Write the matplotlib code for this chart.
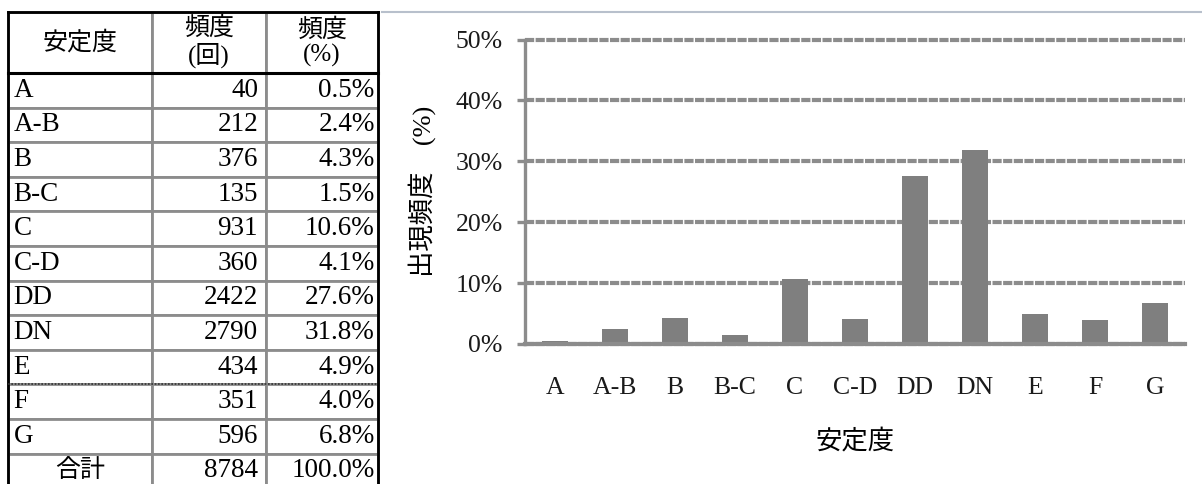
import matplotlib.pyplot as plt
from matplotlib.table import Table

# データ (表と棒グラフ共通)
categories = ['A', 'A-B', 'B', 'B-C', 'C', 'C-D', 'DD', 'DN', 'E', 'F', 'G']
counts = [40, 212, 376, 135, 931, 360, 2422, 2790, 434, 351, 596]
freq_pct = [0.5, 2.4, 4.3, 1.5, 10.6, 4.1, 27.6, 31.8, 4.9, 4.0, 6.8]
total_label = '合計'
total_count = 8784
total_pct = 100.0

header = ['安定度', '頻度\n(回)', '頻度\n(%)']
y_ticks = [0, 10, 20, 30, 40, 50]

plt.rcParams['font.family'] = ['Liberation Serif', 'Noto Sans CJK JP']

W, H = 1202, 484
fig = plt.figure(figsize=(W / 100, H / 100), dpi=100)

grey = '#8c8c8c'

# ---- 表 ----
col_w = [144, 114, 112]
head_h = 61
row_h = 34.6
n_rows = len(categories) + 1
total_h = head_h + row_h * n_rows
tab_top = 12
ax_t = fig.add_axes([8 / W, 1 - (tab_top + total_h) / H, sum(col_w) / W, total_h / H])
ax_t.axis('off')

tbl = Table(ax_t, bbox=[0, 0, 1, 1])
pads = [0.04, 0.07, 0.03]

def add(r, c, text, loc, h, size=19.5):
    cell = tbl.add_cell(r, c, width=col_w[c], height=h, text=text, loc=loc,
                        edgecolor=grey, facecolor='white')
    cell.set_linewidth(2)
    cell.PAD = pads[c]
    cell.get_text().set_fontsize(size)
    cell.get_text().set_linespacing(1.15)
    return cell

for c, t in enumerate(header):
    add(0, c, t, 'center', head_h, 18)
for i, cat in enumerate(categories):
    add(i + 1, 0, cat, 'left', row_h)
    add(i + 1, 1, str(counts[i]), 'right', row_h)
    add(i + 1, 2, f'{freq_pct[i]:.1f}%', 'right', row_h)
add(n_rows, 0, total_label, 'center', row_h, 18)
add(n_rows, 1, str(total_count), 'right', row_h)
add(n_rows, 2, f'{total_pct:.1f}%', 'right', row_h)
tbl.auto_set_font_size(False)
ax_t.add_table(tbl)

# 外枠とヘッダー下の黒線
for xv in (0, 1):
    ax_t.axvline(xv, color='black', lw=2, clip_on=False)
ax_t.axhline(1, color='black', lw=2, clip_on=False)
ax_t.axhline(1 - head_h / total_h, color='black', lw=2.2, clip_on=False)
e_idx = categories.index('E') + 1
ax_t.axhline(1 - (head_h + e_idx * row_h) / total_h, color='#333333',
             lw=1.2, ls=(0, (1, 1)), clip_on=False)

# ---- グラフ枠 ----
ax_bg = fig.add_axes([382 / W, 0, 1 - 382 / W, 1 - 12 / H], zorder=-1)
ax_bg.set_xticks([])
ax_bg.set_yticks([])
for s in ['left', 'right', 'bottom']:
    ax_bg.spines[s].set_visible(False)
ax_bg.spines['top'].set_color('#b8c0cc')
ax_bg.spines['top'].set_linewidth(1.5)
ax_bg.patch.set_alpha(0)

# ---- 棒グラフ ----
ax = fig.add_axes([525 / W, 1 - 344 / H, 660 / W, (344 - 39.5) / H])
x = range(len(categories))
ax.bar(x, [p / 100 for p in freq_pct], width=0.42, color='#7f7f7f', zorder=3)
ax.set_xlim(-0.5, len(categories) - 0.5)
ax.set_ylim(0, 0.5)
ax.set_xticks(list(x), categories)
ax.set_yticks([t / 100 for t in y_ticks], [f'{t}%' for t in y_ticks])
ax.set_axisbelow(True)
ax.yaxis.grid(True, color=grey, lw=3, ls=(0, (2.2, 0.35)))
for gl in ax.get_ygridlines():
    gl.set_clip_on(False)

for s in ['top', 'right']:
    ax.spines[s].set_visible(False)
ax.spines['left'].set_color(grey)
ax.spines['left'].set_linewidth(2.4)
ax.spines['bottom'].set_color(grey)
ax.spines['bottom'].set_linewidth(3)
ax.spines['bottom'].set_zorder(4)

ax.tick_params(axis='y', length=6, width=2.4, color=grey, pad=10,
               labelsize=18.5, labelcolor='#1a1a1a')
ax.tick_params(axis='x', length=0, pad=24, labelsize=18.5, labelcolor='#1a1a1a')
ax.set_ylabel('出現頻度\u3000(%)', fontsize=19, labelpad=14)
ax.set_xlabel('安定度', fontsize=19, labelpad=21)

fig.savefig('out.png', dpi=100)
